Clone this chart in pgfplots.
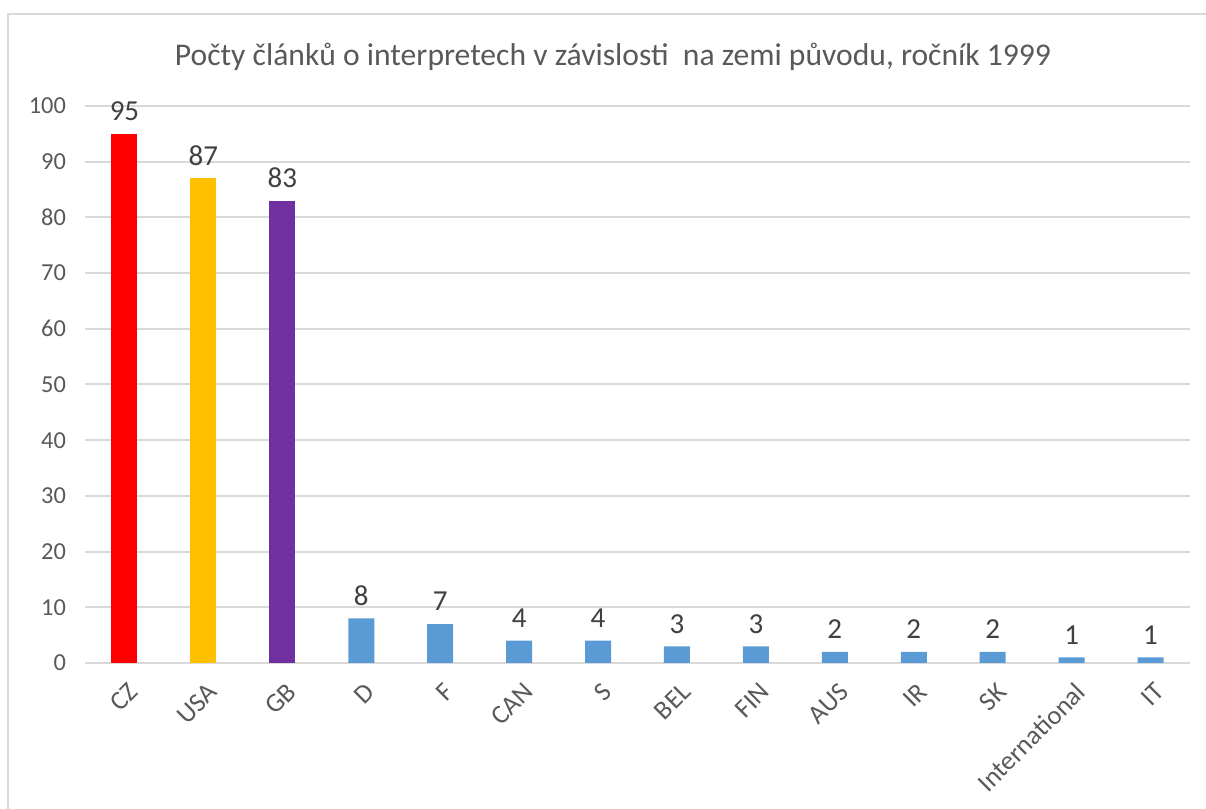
\documentclass[border=0pt]{standalone}
\usepackage{fontspec}
\setmainfont{Carlito}
\usepackage{pgfplots}
\pgfplotsset{compat=1.18}
\definecolor{cz}{HTML}{FF0000}
\definecolor{usa}{HTML}{FFC000}
\definecolor{gb}{HTML}{7030A0}
\definecolor{oth}{HTML}{5B9BD5}
\definecolor{gridc}{HTML}{D9D9D9}
\definecolor{txt}{HTML}{595959}
\definecolor{lbl}{HTML}{404040}
\begin{document}
\begin{tikzpicture}
\path[use as bounding box] (0,0) rectangle (603pt,404.5pt);
\draw[gridc, line width=1pt] (4pt,0) -- (4pt,397.5pt) -- (610pt,397.5pt);
\node[txt, font=\fontsize{15.8pt}{18pt}\selectfont] at (306.5pt,376pt) {Počty článků o interpretech v závislosti\ \ na zemi původu, ročník 1999};
\begin{axis}[
  at={(42.5pt,73pt)}, anchor=south west,
  scale only axis, width=552.5pt, height=278.5pt,
  xmin=-0.5, xmax=13.5, ymin=0, ymax=100,
  ytick={0,10,...,100},
  xtick={0,...,13},
  xticklabels={CZ,USA,GB,D,F,CAN,S,BEL,FIN,AUS,IR,SK,International,IT},
  axis line style={draw=none},
  x axis line style={draw=gridc, line width=1pt},
  axis x line*=bottom,
  axis y line=none,
  hide y axis=false,
  ymajorgrids, grid style={gridc, line width=1pt},
  major tick length=0pt,
  tick style={draw=none},
  yticklabel style={txt, font=\fontsize{12.2pt}{14pt}\selectfont, xshift=-6pt},
  xticklabel style={txt, font=\fontsize{13.3pt}{15pt}\selectfont, rotate=45, anchor=east, xshift=-2pt, yshift=-12pt},
  /pgf/number format/assume math mode=true,
  ybar, bar width=13pt, bar shift=0pt,
  nodes near coords,
  every node near coord/.append style={lbl, font=\fontsize{14.5pt}{16pt}\selectfont, anchor=south, yshift=3pt},
  clip=false,
]
\addplot[draw=none, fill=cz] coordinates {(0,95)};
\addplot[draw=none, fill=usa] coordinates {(1,87)};
\addplot[draw=none, fill=gb] coordinates {(2,83)};
\addplot[draw=none, fill=oth] coordinates {(3,8) (4,7) (5,4) (6,4) (7,3) (8,3) (9,2) (10,2) (11,2) (12,1) (13,1)};
\end{axis}
\end{tikzpicture}
\end{document}
